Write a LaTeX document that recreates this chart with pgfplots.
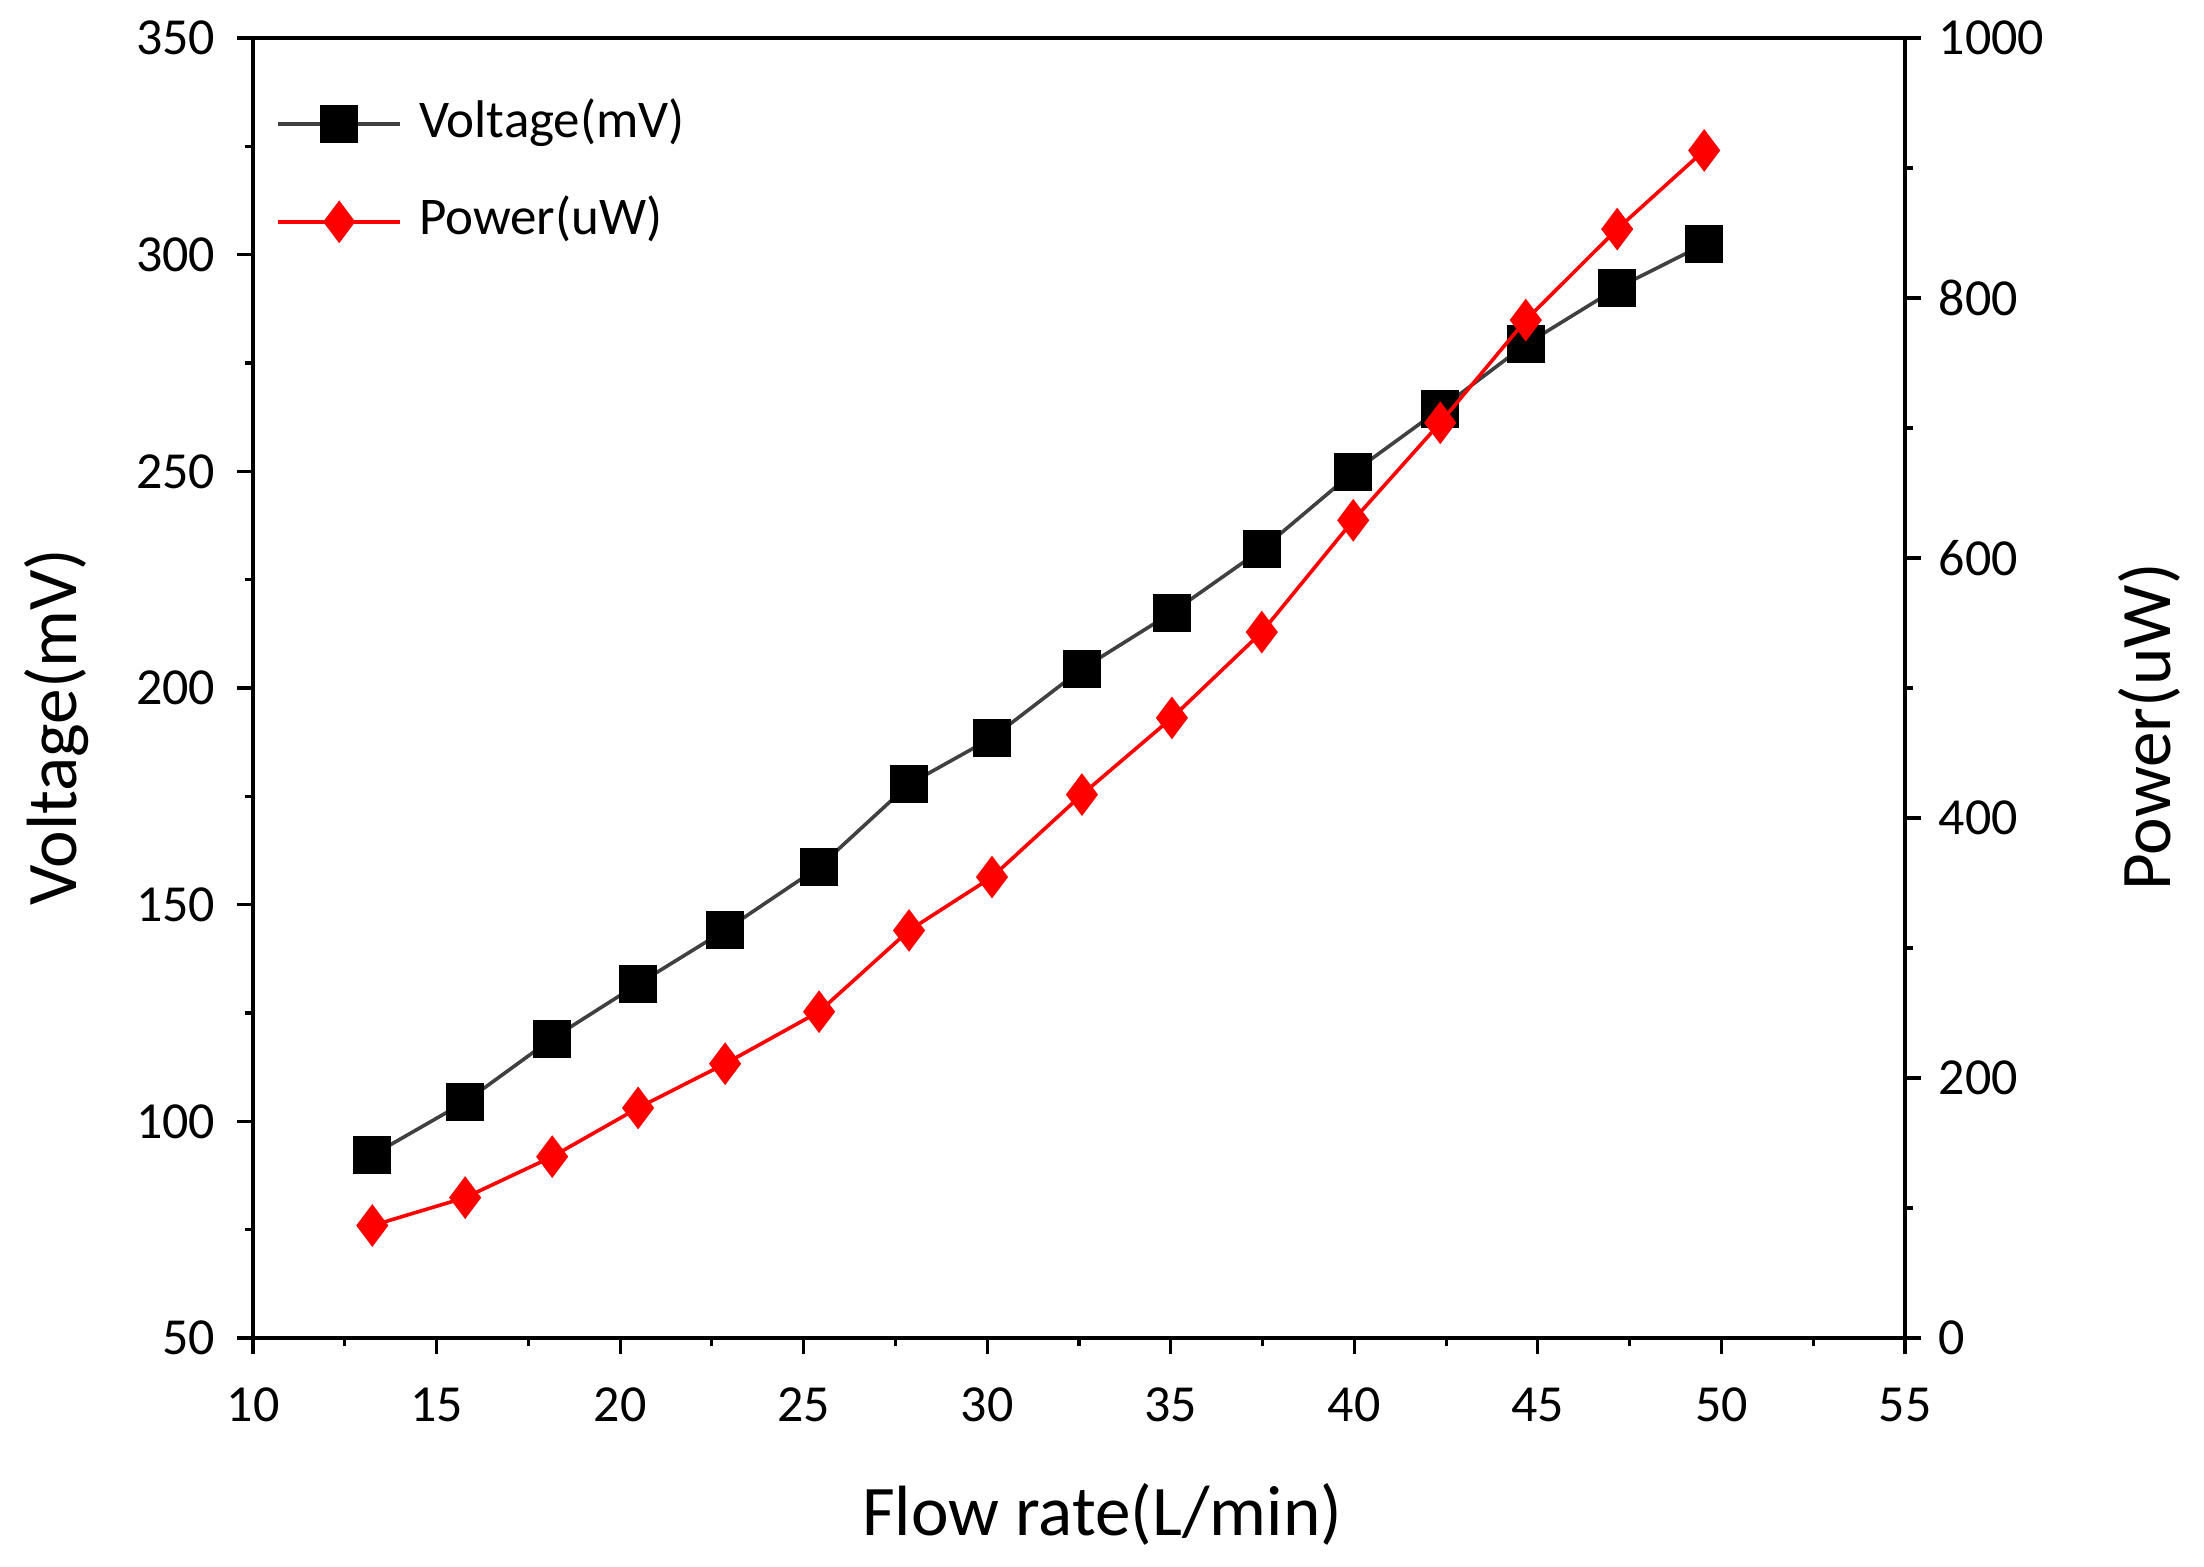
\documentclass[border=0pt]{standalone}
\usepackage{pgfplots}
\pgfplotsset{compat=1.18}
\usepackage{pgfplotstable}
\usepackage{fontspec}
\setmainfont{Carlito}

\pgfplotstableread{
x V
13.25 92.2
15.78 104.5
18.15 119.1
20.49 131.7
22.86 144.1
25.42 158.7
27.87 177.8
30.13 188.5
32.58 204.4
35.03 217.4
37.48 232.0
39.97 249.8
42.34 264.4
44.67 279.3
47.16 292.3
49.53 302.4
}\voltdata

\pgfplotstableread{
x P
13.25 86.5
15.78 108
18.15 139.5
20.49 177
22.86 211
25.42 251
27.87 313.5
30.13 354.6
32.58 418
35.03 477
37.48 543
39.97 629
42.34 704
44.67 783
47.16 853
49.53 913.5
}\powdata

\begin{document}
\begin{tikzpicture}
\path[use as bounding box] (-63.25pt,-57pt) rectangle (487.75pt,334.5pt);
\pgfplotsset{common/.style={
  width=413pt, height=325pt, scale only axis,
  at={(0,0)}, anchor=south west,
  xmin=10, xmax=55, xtick={10,15,...,55}, minor x tick num=1,
  major tick length=3.9pt, minor tick length=2.1pt,
  every tick/.style={black, line width=0.8pt},
  axis line style={line width=0.8pt},
  tick label style={font=\fontsize{13}{15}\selectfont},
  /pgf/number format/assume math mode=true,
  /pgf/number format/1000 sep={},
  label style={font=\fontsize{17.8}{21}\selectfont},
}}
\begin{axis}[common,
  ymin=50, ymax=350, ytick={50,100,...,350}, minor y tick num=1,
  xtick pos=bottom, ytick pos=left, tick align=outside,
  xticklabel style={yshift=-5pt},
  yticklabel style={xshift=-2pt},
  xlabel={Flow rate(L/min)},
  ylabel={Voltage(mV)},
  xlabel style={at={(axis description cs:0.514,-0.136)}, anchor=center},
  ylabel style={at={(axis description cs:-0.1186,0.47)}, anchor=center},
]
\addplot[draw=black!75, line width=0.9pt, mark=square*, mark size=4.3pt,
  mark options={draw=black, fill=black}] table[x=x, y=V] {\voltdata};
\end{axis}
\begin{axis}[common,
  axis x line=none, axis y line*=right,
  ymin=0, ymax=1000, ytick={0,200,...,1000}, minor y tick num=1,
  tick align=outside,
  yticklabel style={xshift=1pt},
  ylabel={Power(uW)},
  ylabel style={at={(axis description cs:1.1477,0.47)}, anchor=center},
  legend style={at={(axis description cs:0,1)}, anchor=north west,
    xshift=6.3pt, yshift=-15.3pt, draw=none, fill=none,
    inner sep=0pt, outer sep=0pt,
    nodes={inner sep=0pt, text height=9.5pt, text depth=3pt},
    row sep=11.9pt, column sep=4.7pt,
    font=\fontsize{13.25}{15}\selectfont},
  legend cell align=left,
  legend image code/.code={
    \pgfpathrectangle{\pgfpoint{0pt}{-3.5pt}}{\pgfpoint{30.5pt}{8.5pt}}%
    \pgfusepath{use as bounding box}%
    \draw[mark repeat=2, mark phase=2, #1] plot coordinates {(0pt,0pt) (15.25pt,0pt) (30.5pt,0pt)};
  },
]
\addlegendimage{draw=black!75, line width=0.9pt, mark=square*, mark size=4.3pt,
  mark options={draw=black, fill=black}}
\addlegendentry{Voltage(mV)}
\addplot[draw=red, line width=0.9pt, mark=diamond*, mark size=4.6pt,
  mark options={draw=red, fill=red}] table[x=x, y=P] {\powdata};
\addlegendentry{Power(uW)}
\end{axis}
\end{tikzpicture}
\end{document}
